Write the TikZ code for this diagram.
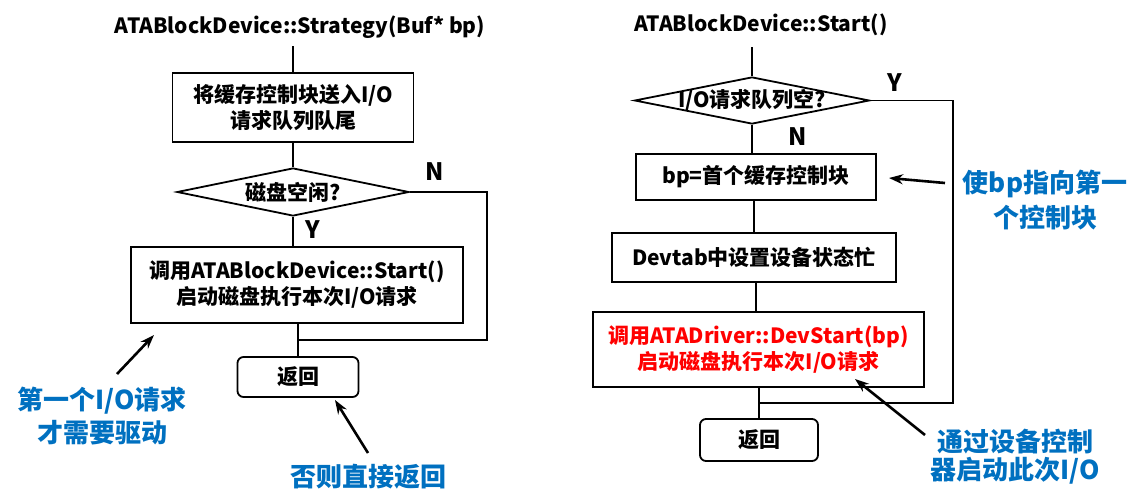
\documentclass[tikz,border=0pt]{standalone}
\usepackage{fontspec}
\setmainfont{Noto Sans CJK SC}
\usetikzlibrary{shapes.geometric,arrows.meta}
\definecolor{noteblue}{HTML}{0070C0}
\definecolor{redtxt}{HTML}{FF0000}
\tikzset{
  flow/.style={line width=1.8pt},
  titletxt/.style={font=\fontsize{21}{26}\selectfont\bfseries, inner sep=0pt},
  procbox/.style={draw, line width=1.8pt, font=\fontsize{21}{26}\selectfont\bfseries, align=center, inner sep=0pt},
  decision/.style={draw, diamond, line width=1.8pt, font=\fontsize{21}{26}\selectfont\bfseries, inner sep=0pt},
  endbox/.style={draw, line width=1.8pt, rounded corners=6pt, font=\fontsize{21}{26}\selectfont\bfseries, inner sep=0pt},
  yn/.style={font=\fontsize{24}{28}\selectfont\bfseries, inner sep=0pt},
  note/.style={text=noteblue, font=\bfseries, align=center, inner sep=0pt},
  pointer/.style={line width=2.6pt, -{Stealth[length=14pt,width=10pt]}},
}
\begin{document}
\begin{tikzpicture}[x=1pt,y=-1pt]
\useasboundingbox (0,0) rectangle (1146,501);

% ---------- left flowchart ----------
\node[titletxt] (t1) at (300,27) {ATABlockDevice::Strategy(Buf* bp)};
\coordinate (s1) at (293,46);
\node[procbox, minimum width=241pt, minimum height=69pt] (b1) at (293,107.5) {将缓存控制块送入I/O\\请求队列队尾};
\node[decision, minimum width=232pt, minimum height=48pt] (d1) at (293,192) {\makebox[0pt]{磁盘空闲?}};
\node[procbox, minimum width=332pt, minimum height=76pt] (b2) at (297,285) {调用ATABlockDevice::Start()\\启动磁盘执行本次I/O请求};
\node[endbox, minimum width=121pt, minimum height=40pt] (r1) at (298,377) {返回};
\coordinate (c1) at (487,340);
\coordinate (m1) at (298,340);
\node[yn] (n1) at (435,172) {N};
\node[yn] (y1) at (313,230) {Y};

\draw[flow] (s1) -- (b1.north);
\draw[flow] (b1.south) -- (d1.north);
\draw[flow] (d1.south) -- (d1.south |- b2.north);
\draw[flow] (b2.south -| r1.north) -- (r1.north);
\draw[flow] (d1.east) -| (c1) -- (m1);

\node[note, font=\fontsize{26}{33}\selectfont\bfseries] (note1) at (102,416.5) {第一个I/O请求\\才需要驱动};
\coordinate (a1t) at (117,374);
\coordinate (a1h) at (154,335);
\draw[pointer] (a1t) -- (a1h);
\node[note, font=\fontsize{26}{33}\selectfont\bfseries] (note2) at (368,477) {否则直接返回};
\coordinate (a2t) at (368,453);
\coordinate (a2h) at (335,400);
\draw[pointer] (a2t) -- (a2h);

% ---------- right flowchart ----------
\node[titletxt] (t2) at (761,25) {ATABlockDevice::Start()};
\coordinate (s2) at (752,47);
\node[decision, minimum width=235pt, minimum height=47pt] (d2) at (752,100.5) {\makebox[0pt]{I/O请求队列空?}};
\node[procbox, minimum width=240pt, minimum height=46pt] (b3) at (756,177) {bp=首个缓存控制块};
\node[procbox, minimum width=284pt, minimum height=49pt] (b4) at (754,257.5) {Devtab中设置设备状态忙};
\node[procbox, minimum width=331pt, minimum height=75pt, text=redtxt] (b5) at (758.5,349.5) {调用ATADriver::DevStart(bp)\\启动磁盘执行本次I/O请求};
\node[endbox, minimum width=118pt, minimum height=42pt] (r2) at (759,440) {返回};
\coordinate (c2) at (953,403);
\coordinate (m2) at (759,403);
\node[yn] (y2) at (895,83) {Y};
\node[yn] (n2) at (798,137) {N};

\draw[flow] (s2) -- (d2.north);
\draw[flow] (d2.south) -- (d2.south |- b3.north);
\draw[flow] (b3.south -| b4.north) -- (b4.north);
\draw[flow] (b4.south -| 756,0) -- (b5.north -| 756,0);
\draw[flow] (b5.south -| r2.north) -- (r2.north);
\draw[flow] (d2.east) -| (c2) -- (m2);

\node[note, font=\fontsize{26}{35}\selectfont\bfseries] (note3) at (1045,200.5) {使bp指向第一\\个控制块};
\coordinate (a3t) at (945,183);
\coordinate (a3h) at (889,178);
\draw[pointer] (a3t) -- (a3h);
\node[note, font=\fontsize{26}{28}\selectfont\bfseries] (note4) at (1015,456.5) {通过设备控制\\器启动此次I/O};
\coordinate (a4t) at (925,435);
\coordinate (a4h) at (855,379);
\draw[pointer] (a4t) -- (a4h);
\end{tikzpicture}
\end{document}
